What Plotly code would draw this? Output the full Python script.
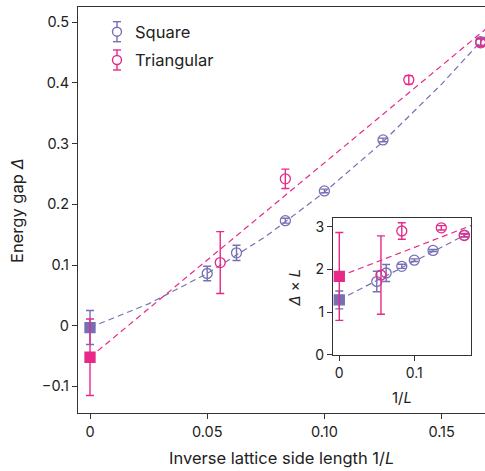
import plotly.graph_objects as go

# ---- data -------------------------------------------------------------
# Square lattice: inverse side length, energy gap, uncertainty (x = 0 is the extrapolated value)
sq_x = [0.0, 1 / 20, 1 / 16, 1 / 12, 1 / 10, 1 / 8, 1 / 6]
sq_gap = [-0.003, 0.086, 0.120, 0.173, 0.222, 0.306, 0.468]
sq_err = [0.028, 0.012, 0.0125, 0.004, 0.003, 0.003, 0.006]

# Triangular lattice
tri_x = [0.0, 1 / 18, 1 / 12, 0.136, 1 / 6]
tri_gap = [-0.052, 0.104, 0.242, 0.405, 0.466]
tri_err = [0.063, 0.051, 0.016, 0.007, 0.006]

# Extrapolated gap x L at 1/L -> 0 (inset)
sq_dl0, sq_dl0_err = 1.29, 0.21
tri_dl0, tri_dl0_err = 1.84, 1.03

# Fit curves (main panel)
sq_fit_x = [0.0, 0.025, 0.05, 0.075, 0.10, 0.125, 0.15, 0.17]
sq_fit_y = [-0.003, 0.036, 0.086, 0.147, 0.220, 0.303, 0.398, 0.482]
tri_fit_x = [0.0, 0.1686]
tri_fit_y = [-0.052, 0.488]

# Fit lines (inset)
sq_dl_fit_x = [0.0, 0.1756]
sq_dl_fit_y = [1.29, 2.88]
tri_dl_fit_x = [0.0, 0.1756]
tri_dl_fit_y = [1.84, 3.03]

x_ticks = [0, 0.05, 0.10, 0.15]
x_ticktext = ["0", "0.05", "0.10", "0.15"]
y_ticks = [-0.1, 0, 0.1, 0.2, 0.3, 0.4, 0.5]
y_ticktext = ["\u22120.1", "0", "0.1", "0.2", "0.3", "0.4", "0.5"]

# ---- styling ----------------------------------------------------------
PURPLE = "#7570b3"
PINK = "#e7298a"
AXIS = "#333333"
FONT = "Inter"
TEXT = "#222222"
DASH = "6px,4px"


def gap_times_l(xs, vals, errs, v0, e0):
    """Gap multiplied by L (= value / (1/L)); the x = 0 point uses the extrapolation."""
    out_v, out_e = [], []
    for x, v, e in zip(xs, vals, errs):
        if x == 0:
            out_v.append(v0)
            out_e.append(e0)
        else:
            out_v.append(v / x)
            out_e.append(e / x)
    return out_v, out_e


sq_dl, sq_dl_err = gap_times_l(sq_x, sq_gap, sq_err, sq_dl0, sq_dl0_err)
tri_dl, tri_dl_err = gap_times_l(tri_x, tri_gap, tri_err, tri_dl0, tri_dl0_err)


def symbols(xs):
    # extrapolated values are drawn as filled squares, finite sizes as open circles
    return ["square" if x == 0 else "circle-open" for x in xs]


fig = go.Figure()


def add_series(xs, ys, errs, color, xaxis, yaxis):
    fig.add_trace(go.Scatter(
        x=xs, y=ys, mode="markers", xaxis=xaxis, yaxis=yaxis, showlegend=False,
        marker=dict(symbol=symbols(xs), size=10, color=color, opacity=1,
                    line=dict(color=color, width=1.3)),
        error_y=dict(type="data", array=errs, visible=True, color=color,
                     thickness=1.4, width=4),
        cliponaxis=False,
    ))


def add_fit(xs, ys, color, xaxis, yaxis):
    fig.add_trace(go.Scatter(
        x=xs, y=ys, mode="lines", xaxis=xaxis, yaxis=yaxis, showlegend=False,
        line=dict(color=color, width=1.2, dash=DASH), hoverinfo="skip",
    ))


# main panel
add_fit(sq_fit_x, sq_fit_y, PURPLE, "x", "y")
add_fit(tri_fit_x, tri_fit_y, PINK, "x", "y")
add_series(sq_x, sq_gap, sq_err, PURPLE, "x", "y")
add_series(tri_x, tri_gap, tri_err, PINK, "x", "y")

# inset
add_fit(sq_dl_fit_x, sq_dl_fit_y, PURPLE, "x2", "y2")
add_fit(tri_dl_fit_x, tri_dl_fit_y, PINK, "x2", "y2")
add_series(sq_x, sq_dl, sq_dl_err, PURPLE, "x2", "y2")
add_series(tri_x, tri_dl, tri_dl_err, PINK, "x2", "y2")

tick_font = dict(family=FONT, size=14.5, color=TEXT)
inset_font = dict(family=FONT, size=14, color=TEXT)
title_font = dict(family=FONT, size=16.5, color=TEXT)

fig.update_layout(
    width=485, height=471,
    margin=dict(l=78, r=0, t=7, b=58),
    paper_bgcolor="white", plot_bgcolor="white",
    font=dict(family=FONT, size=15, color=TEXT),
    xaxis=dict(domain=[0, 1], range=[-0.00512, 0.16851], showgrid=False, zeroline=False,
               showline=True, linecolor=AXIS, linewidth=1.2, mirror=True,
               ticks="outside", ticklen=5, tickcolor=AXIS, tickwidth=1.2,
               tickvals=x_ticks, ticktext=x_ticktext, tickfont=tick_font),
    yaxis=dict(domain=[0, 1], range=[-0.1438, 0.5250], showgrid=False, zeroline=False,
               showline=True, linecolor=AXIS, linewidth=1.2,
               ticks="outside", ticklen=5, tickcolor=AXIS, tickwidth=1.2,
               tickvals=y_ticks, ticktext=y_ticktext, tickfont=tick_font),
    xaxis2=dict(domain=[0.6265, 0.9656], anchor="y2", range=[-0.0084, 0.1756],
                showgrid=False, zeroline=False, showline=True, linecolor=AXIS,
                linewidth=1.2, mirror=True, ticks="outside", ticklen=5, tickcolor=AXIS,
                tickwidth=1.2, tickvals=[0, 0.1], ticktext=["0", "0.1"], tickfont=inset_font),
    yaxis2=dict(domain=[0.1429, 0.4803], anchor="x2", range=[0, 3.208],
                showgrid=False, zeroline=False, showline=True, linecolor=AXIS,
                linewidth=1.2, mirror=True, ticks="outside", ticklen=5, tickcolor=AXIS,
                tickwidth=1.2, tickvals=[0, 1, 2, 3], tickfont=inset_font),
)

# axis titles
fig.add_annotation(text="Inverse lattice side length 1/<i>L</i>", xref="paper", yref="paper",
                   x=0.5, y=-0.112, xanchor="center", yanchor="middle", showarrow=False,
                   font=title_font)
fig.add_annotation(text="Energy gap <i>\u0394</i>", xref="paper", yref="paper",
                   x=-0.150, y=0.5, xanchor="center", yanchor="middle", showarrow=False,
                   textangle=-90, font=title_font)
fig.add_annotation(text="1/<i>L</i>", xref="paper", yref="paper",
                   x=0.7961, y=0.0394, xanchor="center", yanchor="middle", showarrow=False,
                   font=dict(family=FONT, size=15, color=TEXT))
fig.add_annotation(text="<i>\u0394</i> \u00d7 <i>L</i>", xref="paper", yref="paper",
                   x=0.5332, y=0.3084, xanchor="center", yanchor="middle", showarrow=False,
                   textangle=-90, font=dict(family=FONT, size=15, color=TEXT))

# legend: error-bar glyph + open circle + label
legend_items = [("Square", PURPLE, 0.9392), ("Triangular", PINK, 0.8695)]
gx = 0.0958
for label, color, gy in legend_items:
    common = dict(xref="paper", yref="paper", xsizemode="pixel", ysizemode="pixel",
                  xanchor=gx, yanchor=gy, line=dict(color=color, width=1.4))
    fig.add_shape(type="line", x0=0, x1=0, y0=-10, y1=10, **common)
    fig.add_shape(type="line", x0=-4, x1=4, y0=10, y1=10, **common)
    fig.add_shape(type="line", x0=-4, x1=4, y0=-10, y1=-10, **common)
    fig.add_shape(type="circle", x0=-4.5, x1=4.5, y0=-4.5, y1=4.5, fillcolor="white", **common)
    fig.add_annotation(text=label, xref="paper", yref="paper", x=0.1351, y=gy,
                       xanchor="left", yanchor="middle", showarrow=False,
                       font=title_font)

fig.write_html("out.html")
